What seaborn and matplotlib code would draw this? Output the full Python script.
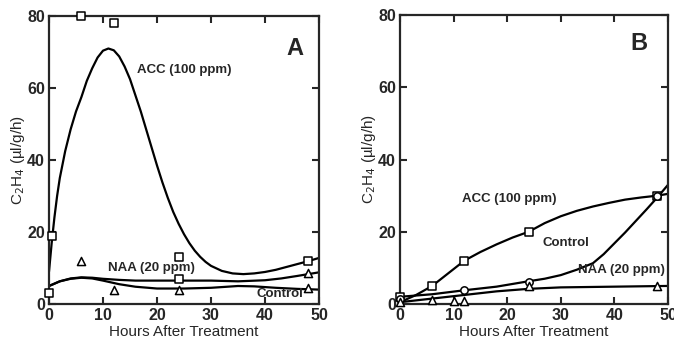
import matplotlib
matplotlib.use("Agg")
import matplotlib.pyplot as plt
import seaborn as sns

sns.set_style("ticks")
plt.rcParams["font.family"] = ["Liberation Sans", "DejaVu Sans"]

# panel A - smooth curves
a_acc_x = [0, 0.5, 1, 1.5, 2, 3, 4, 5, 6, 7, 8, 9, 10, 11, 12, 13, 14, 15, 16, 17, 18, 19,
           20, 21, 22, 23, 24, 25, 26, 27, 28, 29, 30, 32, 34, 36, 38, 40, 42, 44, 46, 48, 50]
a_acc_y = [9, 17, 24, 30, 35, 42.5, 48.5, 53.5, 57.5, 62, 65.5, 68.5, 70.4, 71, 70.5, 68.8, 66,
           62.5, 58, 53.5, 48.5, 43.5, 38.5, 33.8, 29.5, 25.6, 22.3, 19.4, 16.9, 14.8, 13.1, 11.7,
           10.6, 9.2, 8.5, 8.3, 8.5, 8.9, 9.5, 10.3, 11.1, 11.9, 12.8]
a_naa_x = [0, 2, 4, 6, 8, 10, 13, 16, 20, 25, 30, 35, 40, 43, 46, 48, 50]
a_naa_y = [5, 6.3, 7.1, 7.4, 7.3, 7, 6.7, 6.5, 6.5, 6.5, 6.5, 6.3, 6.6, 7.1, 7.8, 8.3, 8.8]
a_ctl_x = [0, 2, 4, 6, 8, 10, 13, 16, 20, 25, 30, 35, 38, 42, 46, 50]
a_ctl_y = [5, 6.3, 7, 7.3, 7.1, 6.5, 5.5, 4.8, 4.3, 4.3, 4.5, 5, 4.9, 4.5, 4.2, 4]

# panel A - markers
a_sq_x = [0, 0.5, 6, 12, 24, 24, 48]
a_sq_y = [3, 19, 80, 78, 13, 7, 12]
a_tri_x = [6, 12, 24, 48, 48]
a_tri_y = [12, 4, 4, 8.5, 4.5]

# panel B - smooth curves
b_acc_x = [0, 3, 6, 9, 12, 15, 18, 21, 24, 27, 30, 33, 36, 39, 42, 45, 48, 50]
b_acc_y = [0.5, 2.5, 5, 8.5, 12, 14.4, 16.5, 18.4, 20, 22.4, 24.3, 25.8, 27, 28, 28.9, 29.5, 30, 30.5]
b_ctl_x = [0, 6, 12, 18, 24, 27, 30, 33, 36, 38, 40, 42, 44, 46, 48, 50]
b_ctl_y = [2, 2.7, 3.8, 4.8, 6.3, 7, 8, 9.5, 11.3, 13.8, 16.8, 19.8, 23, 26.2, 29.5, 33]
b_naa_x = [0, 6, 12, 18, 24, 30, 40, 50]
b_naa_y = [0.5, 1.5, 2.5, 3.5, 4.2, 4.6, 4.8, 5]

# panel B - markers
b_sq_x = [0, 6, 12, 24, 48]
b_sq_y = [2, 5, 12, 20, 30]
b_ci_x = [0, 12, 24, 48]
b_ci_y = [1.5, 4, 6, 30]
b_tri_x = [0, 6, 10, 12, 24, 48]
b_tri_y = [0.5, 1, 0.8, 0.8, 5, 5]

fig = plt.figure(figsize=(6.74, 3.46), dpi=100)
axA = fig.add_axes([0.0727, 0.1214, 0.4006, 0.832])
axB = fig.add_axes([0.5935, 0.1214, 0.3976, 0.835])


def draw_curves(ax, curves):
    for cx, cy in curves:
        sns.lineplot(x=cx, y=cy, ax=ax, color="black", linewidth=1.6, sort=False)


def draw_marks(ax, xs, ys, marker, size=34):
    sns.scatterplot(x=xs, y=ys, ax=ax, marker=marker, s=size, facecolor="white",
                    edgecolor="black", linewidth=1.1, zorder=5, clip_on=False)


draw_curves(axA, [(a_acc_x, a_acc_y), (a_naa_x, a_naa_y), (a_ctl_x, a_ctl_y)])
draw_marks(axA, a_sq_x, a_sq_y, "s")
draw_marks(axA, a_tri_x, a_tri_y, "^")

draw_curves(axB, [(b_acc_x, b_acc_y), (b_ctl_x, b_ctl_y), (b_naa_x, b_naa_y)])
draw_marks(axB, b_sq_x, b_sq_y, "s")
draw_marks(axB, b_ci_x, b_ci_y, "o", 28)
draw_marks(axB, b_tri_x, b_tri_y, "^")

for ax in (axA, axB):
    ax.set_xlim(0, 50)
    ax.set_ylim(0, 80)
    ax.set_xticks([0, 10, 20, 30, 40, 50])
    ax.set_yticks([0, 20, 40, 60, 80])
    ax.tick_params(direction="in", top=True, right=True, length=5, width=1.5,
                   labelsize=11.5, pad=3)
    for lab in ax.get_xticklabels() + ax.get_yticklabels():
        lab.set_fontweight("bold")
    for sp in ax.spines.values():
        sp.set_linewidth(1.6)
    ax.set_xlabel("Hours After Treatment", fontsize=11, labelpad=1)
    ax.set_ylabel("C$_2$H$_4$ (µl/g/h)", fontsize=11, labelpad=0)

axA.text(16.3, 65, "ACC (100 ppm)", fontsize=9.5, fontweight="bold", va="center")
axA.text(10.9, 10, "NAA (20 ppm)", fontsize=9.5, fontweight="bold", va="center")
axA.text(38.5, 2.8, "Control", fontsize=9.5, fontweight="bold", va="center")
axA.text(45.5, 71, "A", fontsize=17, fontweight="bold", ha="center", va="center")

axB.text(11.6, 29, "ACC (100 ppm)", fontsize=9.5, fontweight="bold", va="center")
axB.text(26.5, 17, "Control", fontsize=9.5, fontweight="bold", va="center")
axB.text(33.2, 9.4, "NAA (20 ppm)", fontsize=9.5, fontweight="bold", va="center")
axB.text(44.5, 72, "B", fontsize=17, fontweight="bold", ha="center", va="center")

fig.savefig("out.png", dpi=100)
